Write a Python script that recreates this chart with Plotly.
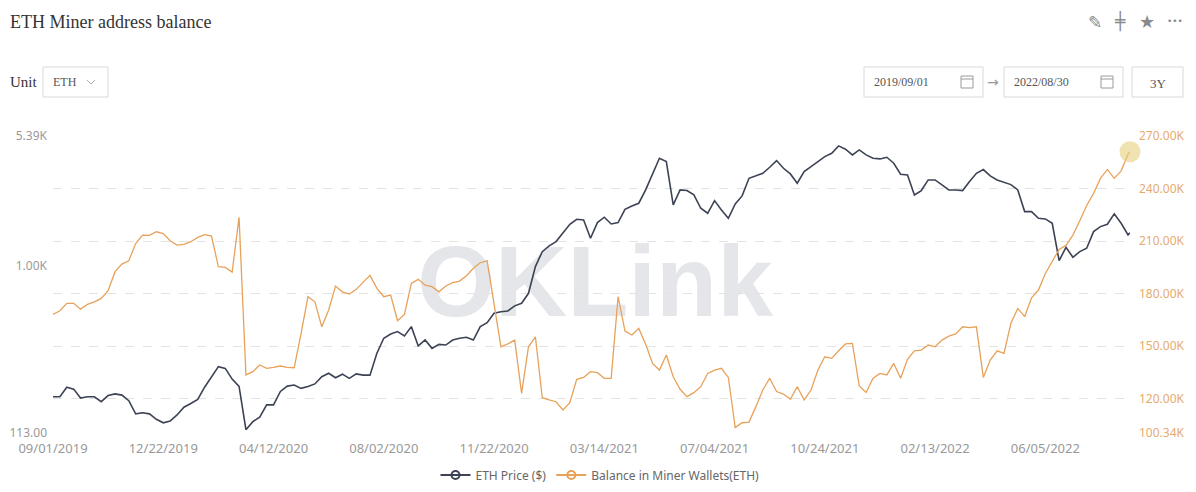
import pandas as pd
import plotly.graph_objects as go

# weekly samples from 09/01/2019, last point is 08/30/2022
dates = pd.date_range("2019-09-01", periods=157, freq="7D").tolist() + [pd.Timestamp("2022-08-30")]

eth_price = [
    181, 181, 205, 200, 178, 181, 181, 170, 184, 188,
    185, 172, 145, 147, 145, 135, 129, 132, 143, 158,
    166, 175, 205, 235, 268, 262, 228, 207, 118, 131,
    139, 163, 163, 194, 208, 211, 202, 207, 214, 235,
    246, 232, 243, 230, 244, 240, 240, 319, 388, 410,
    423, 400, 451, 351, 379, 340, 358, 355, 379, 388,
    393, 379, 451, 475, 537, 548, 553, 591, 611, 696,
    985, 1197, 1289, 1364, 1533, 1709, 1824, 1808, 1424, 1747,
    1873, 1716, 1747, 2077, 2170, 2247, 2672, 3319, 4035, 3864,
    2198, 2672, 2650, 2504, 2105, 1972, 2325, 2060, 1848, 2227,
    2472, 3110, 3219, 3319, 3589, 3914, 3542, 3291, 2914, 3393,
    3620, 3864, 4124, 4306, 4739, 4537, 4214, 4500, 4214, 4035,
    4000, 4088, 3781, 3277, 3249, 2504, 2650, 3043, 3043, 2852,
    2672, 2672, 2650, 2978, 3319, 3482, 3206, 3043, 2953, 2864,
    2672, 2015, 2015, 1848, 1832, 1731, 1065, 1267, 1112, 1197,
    1251, 1554, 1658, 1709, 1956, 1731, 1488, 1530,
]

miner_balance = [
    168100, 170200, 174400, 174400, 171100, 173800, 175300, 177200, 181600, 192500,
    196800, 198700, 208600, 213400, 213200, 215300, 214300, 210200, 207700, 208100,
    209600, 212100, 213600, 212800, 195300, 194900, 192300, 223500, 133500, 135400,
    139200, 137300, 137800, 138600, 137800, 137600, 157200, 178200, 175300, 161000,
    170600, 184300, 181000, 179700, 182400, 186200, 190400, 183000, 178200, 179100,
    164500, 168100, 185800, 188100, 184800, 183900, 181000, 184300, 186200, 187100,
    190200, 194400, 197600, 198700, 174400, 149600, 151200, 153400, 123000, 149600,
    155300, 120500, 119200, 118200, 113500, 117700, 131000, 132100, 135400, 134800,
    131600, 131600, 178200, 158600, 156300, 160100, 151000, 140100, 136300, 144900,
    132500, 125300, 121100, 123400, 126800, 134400, 136300, 137300, 132100, 103400,
    106200, 106600, 115400, 124900, 131600, 124000, 122600, 119600, 126800, 119200,
    124900, 136300, 143900, 143000, 147300, 151200, 151500, 127200, 123500, 131600,
    134400, 133500, 140100, 131600, 142400, 147300, 147700, 150600, 149600, 153400,
    155700, 156900, 161000, 160500, 161000, 132100, 142000, 147300, 145800, 163000,
    171500, 166800, 177600, 182000, 191500, 198500, 205200, 207500, 213400, 221600,
    230300, 237200, 245800, 250900, 245800, 250100, 259600, 261000,
]

x_ticks = ["2019-09-01", "2019-12-22", "2020-04-12", "2020-08-02", "2020-11-22",
           "2021-03-14", "2021-07-04", "2021-10-24", "2022-02-13", "2022-06-05"]
x_labels = ["09/01/2019", "12/22/2019", "04/12/2020", "08/02/2020", "11/22/2020",
            "03/14/2021", "07/04/2021", "10/24/2021", "02/13/2022", "06/05/2022"]

price_ticks = [113, 1000, 5390]
price_labels = ["113.00", "1.00K", "5.39K"]
balance_ticks = [100340, 120000, 150000, 180000, 210000, 240000, 270000]
balance_labels = ["100.34K", "120.00K", "150.00K", "180.00K", "210.00K", "240.00K", "270.00K"]

DARK = "#3c4354"
ORANGE = "#e8a15a"
W, H = 1196, 492
L, R, T, B = 53, 1130, 136, 433


def px(x, y):
    # page pixel -> paper coords
    return (x - L) / (R - L), (B - y) / (B - T)


fig = go.Figure()

fig.add_trace(go.Scatter(x=dates, y=eth_price, mode="lines", yaxis="y",
                         line=dict(color=DARK, width=1.6), showlegend=False,
                         hoverinfo="skip"))
fig.add_trace(go.Scatter(x=dates, y=miner_balance, mode="lines", yaxis="y2",
                         line=dict(color=ORANGE, width=1.3), showlegend=False,
                         hoverinfo="skip"))
# highlighted last point
fig.add_trace(go.Scatter(x=[dates[-1]], y=[miner_balance[-1]], mode="markers", yaxis="y2",
                         marker=dict(size=21, color="rgba(232,206,125,0.6)"),
                         cliponaxis=False, showlegend=False, hoverinfo="skip"))

# legend entries
fig.add_trace(go.Scatter(x=[None], y=[None], mode="lines+markers", name="ETH Price ($)",
                         line=dict(color=DARK, width=2),
                         marker=dict(symbol="circle-open", size=8, color=DARK, line=dict(width=2))))
fig.add_trace(go.Scatter(x=[None], y=[None], mode="lines+markers", yaxis="y2",
                         name="Balance in Miner Wallets(ETH)",
                         line=dict(color=ORANGE, width=2),
                         marker=dict(symbol="circle-open", size=8, color=ORANGE, line=dict(width=2))))

shapes = []
ann = []

# watermark behind the lines
wx0, wy0 = px(400, 330)
wx1, wy1 = px(790, 214)
shapes.append(dict(type="rect", xref="paper", yref="paper", x0=wx0, x1=wx1, y0=wy0, y1=wy1,
                   line=dict(width=0), fillcolor="rgba(0,0,0,0)", layer="below",
                   label=dict(text="OKLink", textposition="middle center",
                              font=dict(size=100, color="#e4e6ea", family="Liberation Sans",
                                        weight="bold"))))

# control boxes
for bx0, bx1 in [(43, 108), (864, 983), (1004, 1123), (1132, 1183)]:
    a0, c0 = px(bx0, 67)
    a1, c1 = px(bx1, 97)
    shapes.append(dict(type="rect", xref="paper", yref="paper", x0=a0, x1=a1, y0=c1, y1=c0,
                       line=dict(color="#d9d9d9", width=1), fillcolor="white"))

# calendar icons
for cx in [967, 1107]:
    a0, c0 = px(cx - 6, 76)
    a1, c1 = px(cx + 6, 88)
    shapes.append(dict(type="rect", xref="paper", yref="paper", x0=a0, x1=a1, y0=c1, y1=c0,
                       line=dict(color="#9a9a9a", width=1)))
    a0, c0 = px(cx - 6, 79)
    shapes.append(dict(type="line", xref="paper", yref="paper", x0=a0, x1=a1, y0=c0, y1=c0,
                       line=dict(color="#9a9a9a", width=1)))

# dropdown chevron
p1, p2, p3 = px(87, 80), px(91, 84), px(95, 80)
shapes.append(dict(type="path", xref="paper", yref="paper",
                   path=f"M {p1[0]},{p1[1]} L {p2[0]},{p2[1]} L {p3[0]},{p3[1]}",
                   line=dict(color="#aaa", width=1)))


def text(x, y, s, size=12, color="#333", family="Liberation Serif", anchor="left"):
    ax, ay = px(x, y)
    ann.append(dict(text=s, x=ax, y=ay, xref="paper", yref="paper", showarrow=False,
                    xanchor=anchor, yanchor="middle",
                    font=dict(size=size, color=color, family=family)))


text(8, 22, "ETH Miner address balance", size=18)
text(8, 82, "Unit", size=15)
text(51, 82, "ETH", size=12, color="#555")
text(872, 82, "2019/09/01", size=12, color="#555")
text(1012, 82, "2022/08/30", size=12, color="#555")
text(993, 82, "→", size=14, color="#999", family="DejaVu Sans", anchor="center")
text(1158, 83, "3Y", size=13, color="#555", anchor="center")
text(1095, 22, "✎", size=17, color="#8a8a8a", family="DejaVu Sans", anchor="center")
text(1120, 22, "╪", size=17, color="#8a8a8a", family="DejaVu Sans", anchor="center")
text(1147, 21, "★", size=18, color="#8a8a8a", family="DejaVu Sans", anchor="center")
text(1175, 21, "•••", size=9, color="#8a8a8a", family="DejaVu Sans", anchor="center")

fig.update_layout(
    width=W, height=H,
    margin=dict(l=L, r=W - R, t=T, b=H - B, pad=0, autoexpand=False),
    paper_bgcolor="white", plot_bgcolor="white",
    font=dict(family="Noto Sans", size=12, color="#999"),
    hovermode=False,
    showlegend=True,
    legend=dict(orientation="h", xref="container", yref="container",
                x=600 / W, y=1 - 475 / H, xanchor="center", yanchor="middle",
                font=dict(size=12, color="#666"), itemwidth=30),
    xaxis=dict(range=[dates[0], dates[-1]], tickvals=x_ticks, ticktext=x_labels,
               showgrid=False, zeroline=False, showline=False, ticks="",
               automargin=False, ticklabelstandoff=6,
               tickfont=dict(size=13, color="#999")),
    yaxis=dict(type="log", range=[2.0531, 3.7316], tickvals=price_ticks, ticktext=price_labels,
               showgrid=False, zeroline=False, showline=False, ticks="",
               automargin=False, ticklabelstandoff=5,
               tickfont=dict(size=12, color="#999")),
    yaxis2=dict(overlaying="y", side="right", range=[100340, 270000],
                tickvals=balance_ticks, ticktext=balance_labels,
                showgrid=True, gridcolor="#e3e3e3", griddash="dash", gridwidth=1,
                zeroline=False, showline=False, ticks="", ticklabelstandoff=8,
                automargin=False,
                tickfont=dict(size=12, color="#e6ab6f")),
    shapes=shapes,
    annotations=ann,
)

fig.write_html("out.html", config={"displayModeBar": False},
               post_script="document.body.style.margin='0';")
